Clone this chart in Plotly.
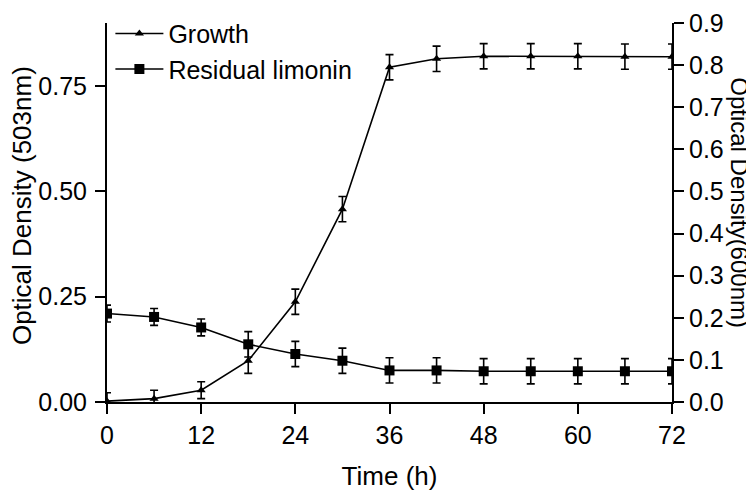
import plotly.graph_objects as go

time_h = [0, 6, 12, 18, 24, 30, 36, 42, 48, 54, 60, 66, 72]
growth = [0.002, 0.008, 0.028, 0.098, 0.238, 0.458, 0.795, 0.815, 0.821, 0.821, 0.821, 0.82, 0.82]
growth_err = [0.02, 0.02, 0.02, 0.03, 0.03, 0.03, 0.03, 0.03, 0.03, 0.03, 0.03, 0.03, 0.03]
limonin = [0.210, 0.202, 0.177, 0.137, 0.114, 0.098, 0.075, 0.075, 0.073, 0.073, 0.073, 0.073, 0.073]
limonin_err = [0.02, 0.02, 0.02, 0.03, 0.03, 0.03, 0.03, 0.03, 0.03, 0.03, 0.03, 0.03, 0.03]

x_ticks = [0, 12, 24, 36, 48, 60, 72]
left_ticks = [0.0, 0.25, 0.5, 0.75]
right_ticks = [0.0, 0.1, 0.2, 0.3, 0.4, 0.5, 0.6, 0.7, 0.8, 0.9]

FONT = "Liberation Sans, Arial, sans-serif"
TICK_SIZE = 25
TITLE_SIZE = 26

fig = go.Figure()
fig.add_trace(go.Scatter(
    x=time_h, y=growth, name="Growth", yaxis="y2",
    mode="lines+markers",
    line=dict(color="black", width=1.6),
    marker=dict(symbol="triangle-up", size=8, color="black"),
    error_y=dict(type="data", array=growth_err, visible=True, color="black", thickness=1.6, width=4),
))
fig.add_trace(go.Scatter(
    x=time_h, y=limonin, name="Residual limonin", yaxis="y",
    mode="lines+markers",
    line=dict(color="black", width=1.6),
    marker=dict(symbol="square", size=10, color="black"),
    error_y=dict(type="data", array=limonin_err, visible=True, color="black", thickness=1.6, width=4),
))

axis_common = dict(showgrid=False, zeroline=False, showline=True, linecolor="black", linewidth=2,
                   ticks="outside", ticklen=10, tickwidth=2, tickcolor="black", automargin=False,
                   ticklabeloverflow="allow",
                   tickfont=dict(family=FONT, size=TICK_SIZE, color="black"))

# page has an 8px body margin, so the figure is 8px smaller and margins shifted accordingly
fig.update_layout(
    width=746, height=485,
    margin=dict(l=99, r=82, t=15, b=91, autoexpand=False),
    paper_bgcolor="white", plot_bgcolor="white",
    font=dict(family=FONT, size=TICK_SIZE, color="black"),
    showlegend=True,
    legend=dict(x=0.006, y=1.0325, xanchor="left", yanchor="top", bgcolor="rgba(0,0,0,0)",
                font=dict(family=FONT, size=TICK_SIZE, color="black"), tracegroupgap=0,
                itemwidth=48),
    xaxis=dict(range=[0, 72], tickvals=x_ticks,
               title=dict(text="Time (h)", standoff=19, font=dict(family=FONT, size=TITLE_SIZE)),
               **axis_common),
    yaxis=dict(range=[0, 0.9], tickvals=left_ticks, tickformat=".2f", ticklabelstandoff=3,
               **axis_common),
    yaxis2=dict(range=[0, 0.9], tickvals=right_ticks, tickformat=".1f", overlaying="y", side="right",
                ticklabelstandoff=0, **axis_common),
    annotations=[
        dict(text="Optical Density (503nm)", xref="paper", yref="paper", x=-0.1504, y=0.517,
             xanchor="center", yanchor="middle", textangle=-90, showarrow=False,
             font=dict(family=FONT, size=TITLE_SIZE, color="black")),
        dict(text="Optical Density(600nm)", xref="paper", yref="paper", x=1.1204, y=0.527,
             xanchor="center", yanchor="middle", textangle=90, showarrow=False,
             font=dict(family=FONT, size=24, color="black")),
    ],
)

fig.write_html("out.html")
